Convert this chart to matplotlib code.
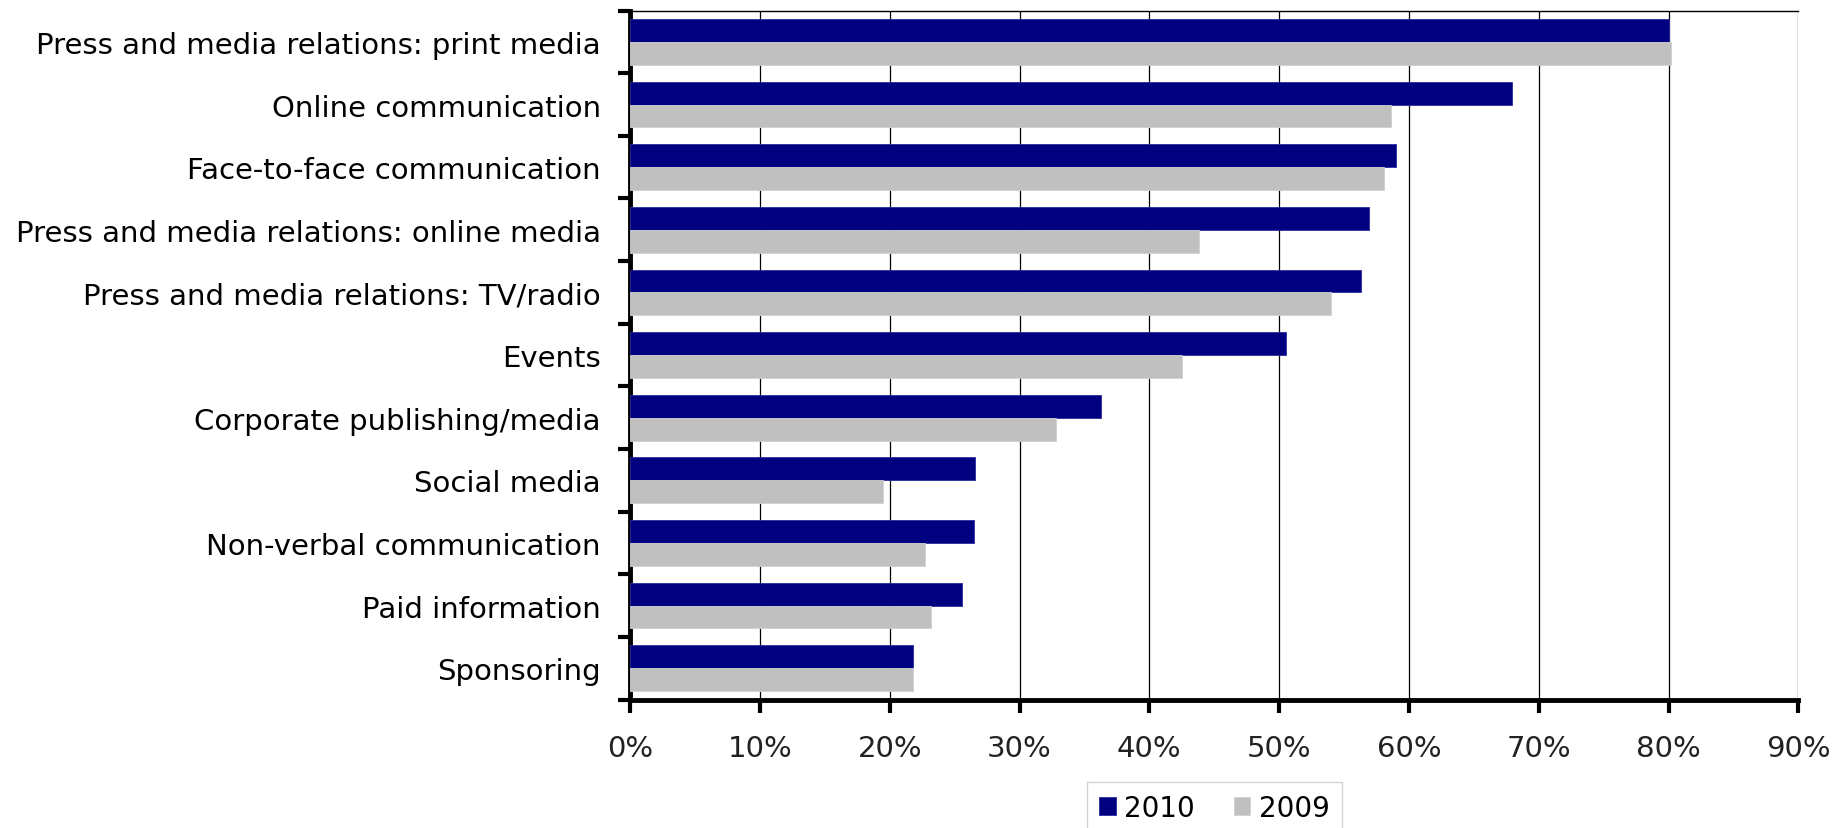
import numpy as np
import matplotlib.pyplot as plt
from matplotlib.ticker import FixedLocator, PercentFormatter

categories = [
    "Press and media relations: print media",
    "Online communication",
    "Face-to-face communication",
    "Press and media relations: online media",
    "Press and media relations: TV/radio",
    "Events",
    "Corporate publishing/media",
    "Social media",
    "Non-verbal communication",
    "Paid information",
    "Sponsoring",
]
values_2010 = [80.0, 67.9, 59.0, 56.9, 56.3, 50.5, 36.3, 26.6, 26.5, 25.6, 21.8]
values_2009 = [80.2, 58.6, 58.1, 43.8, 54.0, 42.5, 32.8, 19.5, 22.7, 23.2, 21.8]
xticks = [0, 10, 20, 30, 40, 50, 60, 70, 80, 90]

plt.rcParams['font.family'] = ['DejaVu Sans']

fig = plt.figure(figsize=(18.37, 8.29), dpi=100)
ax = fig.add_axes([0.343, 0.155, 0.636, 0.831])

n = len(categories)
y = np.arange(n)
h = 0.365
ax.barh(y - h / 2, values_2010, height=h, color='#000080', edgecolor='#2a2aa0', linewidth=0.6, label='2010', zorder=3)
ax.barh(y + h / 2, values_2009, height=h, color='#c0c0c0', edgecolor='#d0d0d0', linewidth=0.6, label='2009', zorder=3)

ax.set_xlim(0, 90)
ax.set_ylim(n - 0.5, -0.5)

# x axis: percent ticks and vertical grid lines
ax.set_xticks(xticks)
ax.xaxis.set_major_formatter(PercentFormatter(decimals=0))
ax.grid(axis='x', color='black', linewidth=0.9, zorder=0)
ax.tick_params(axis='x', direction='out', length=9, width=3, labelsize=21, pad=16, colors='black')
for lab in ax.get_xticklabels():
    lab.set_color('#222222')

# y axis: tick marks between categories, labels centred on each category
ax.yaxis.set_major_locator(FixedLocator(np.arange(-0.5, n, 1.0)))
ax.yaxis.set_minor_locator(FixedLocator(y))
ax.set_yticklabels([], minor=False)
ax.set_yticklabels(categories, minor=True)
ax.tick_params(axis='y', which='major', direction='out', length=9, width=3)
ax.tick_params(axis='y', which='minor', length=0, labelsize=21, pad=21)

ax.spines['left'].set_linewidth(3.5)
ax.spines['bottom'].set_linewidth(3.5)
ax.spines['top'].set_linewidth(1.0)
ax.spines['right'].set_visible(False)

leg = fig.legend(loc='upper center', bbox_to_anchor=(0.661, 0.056), ncol=2,
                 fontsize=20, frameon=True, fancybox=False, edgecolor='#c8c8c8',
                 handlelength=0.6, handleheight=0.6, handletextpad=0.3,
                 columnspacing=1.4, borderpad=0.45, borderaxespad=0)
leg.get_frame().set_linewidth(1.0)

fig.savefig('out.png', dpi=100)
